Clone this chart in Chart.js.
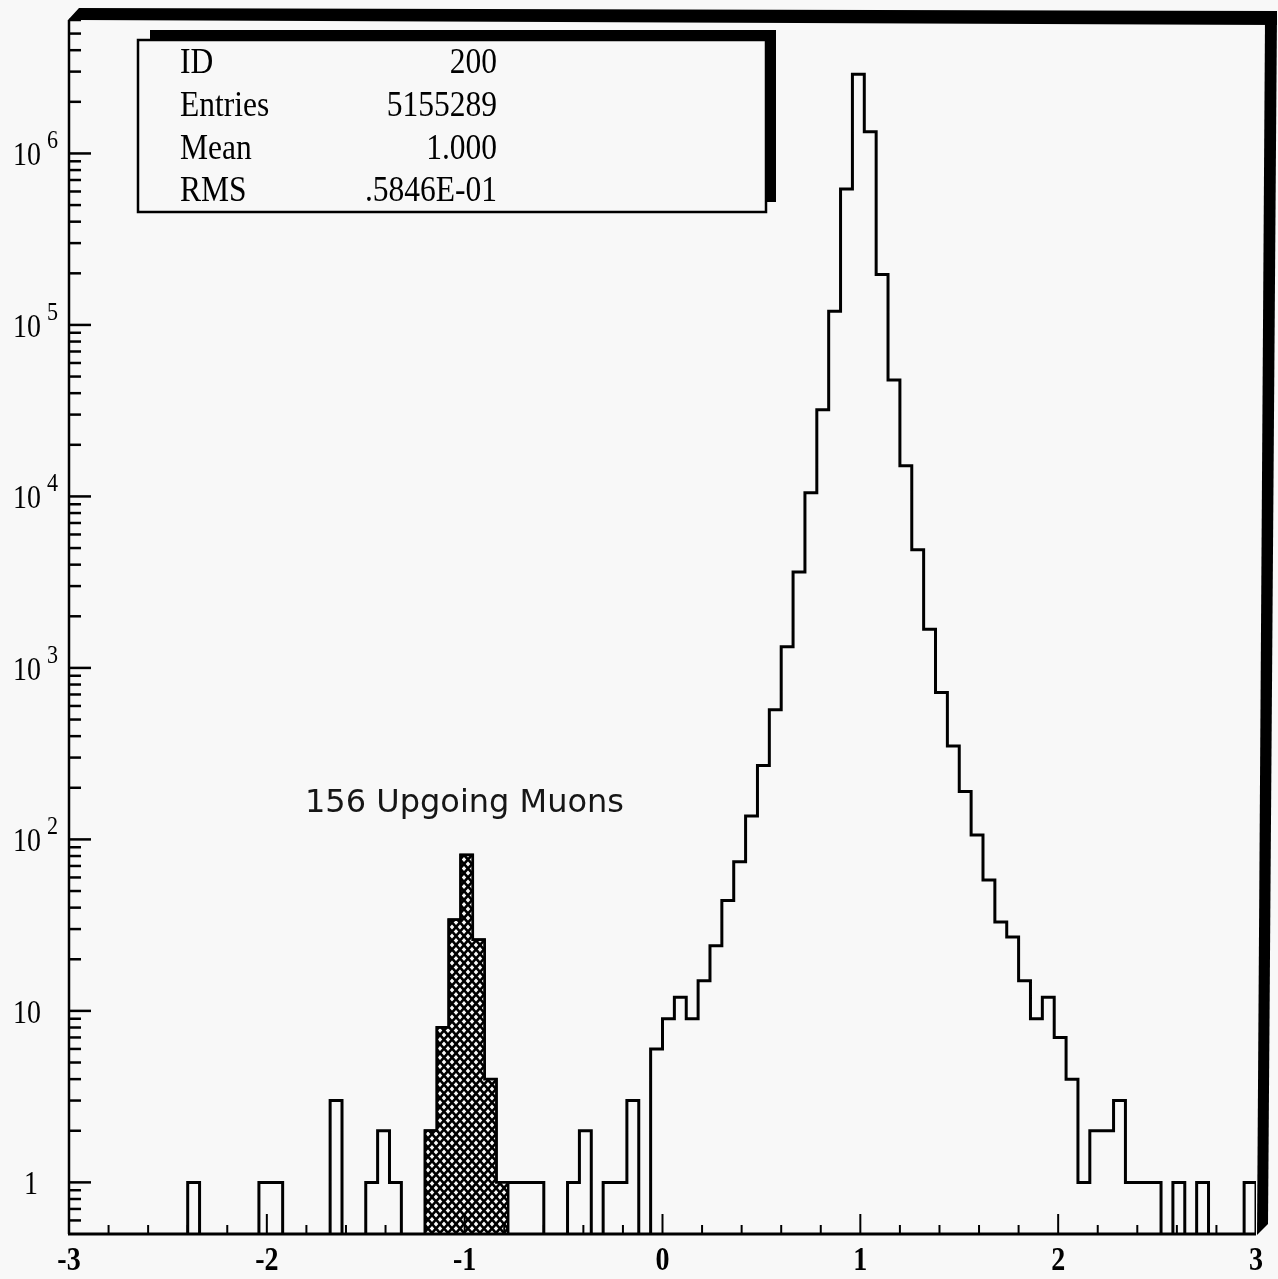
<!DOCTYPE html>
<html>
<head>
<meta charset="utf-8">
<script src="https://cdn.jsdelivr.net/npm/chart.js@4.4.1/dist/chart.umd.min.js"></script>
<style>
  html, body { margin: 0; padding: 0; background: #f8f8f8; }
  canvas { display: block; }
</style>
</head>
<body>
<canvas id="histo" width="1278" height="1279"></canvas>
<script>
// histogram ID 200: 100 bins of 0.06 from -3 to 3
const xMin = -3;
const xMax = 3;
const binWidth = 0.06;

// all events, bin by bin (left to right)
const allEvents = [
    0, 0, 0, 0, 0, 0, 0, 0, 0, 0,
    1, 0, 0, 0, 0, 0, 1, 1, 0, 0,
    0, 0, 3, 0, 0, 1, 2, 1, 0, 0,
    2, 8, 34, 81, 26, 4, 1, 1, 1, 1,
    0, 0, 1, 2, 0, 1, 1, 3, 0, 6,
    9, 12, 9, 15, 24, 44, 74, 137, 270, 570,
    1330, 3620, 10500, 32000, 120000, 620000, 2900000, 1340000, 197000, 47700,
    15100, 4890, 1680, 720, 350, 190, 106, 58, 33, 27,
    15, 9, 12, 7, 4, 1, 2, 2, 3, 1,
    1, 1, 0, 1, 0, 1, 0, 0, 0, 1
];

// the 156 upgoing muons (hatched), same binning
const upgoingMuons = [
    0, 0, 0, 0, 0, 0, 0, 0, 0, 0,
    0, 0, 0, 0, 0, 0, 0, 0, 0, 0,
    0, 0, 0, 0, 0, 0, 0, 0, 0, 0,
    2, 8, 34, 81, 26, 4, 1, 0, 0, 0,
    0, 0, 0, 0, 0, 0, 0, 0, 0, 0,
    0, 0, 0, 0, 0, 0, 0, 0, 0, 0,
    0, 0, 0, 0, 0, 0, 0, 0, 0, 0,
    0, 0, 0, 0, 0, 0, 0, 0, 0, 0,
    0, 0, 0, 0, 0, 0, 0, 0, 0, 0,
    0, 0, 0, 0, 0, 0, 0, 0, 0, 0
];

const xTickValues = [-3, -2, -1, 0, 1, 2, 3];
const xTickLabels = ["-3", "-2", "-1", "0", "1", "2", "3"];
const yTickValues = [1, 10, 100, 1000, 10000, 100000, 1000000];
const yTickBase = ["1", "10", "10", "10", "10", "10", "10"];
const yTickExp = ["", "", "2", "3", "4", "5", "6"];

const statLabels = ["ID", "Entries", "Mean", "RMS"];
const statValues = ["200", "5155289", "1.000", ".5846E-01"];
const noteText = "156 Upgoing Muons";

const yMin = 0.5;
const yMax = 6e6;
const emptyLevel = 0.01; // empty bins fall below the log axis and get clipped

function stepPoints(values) {
    const pts = values.map((v, i) => ({ x: xMin + i * binWidth, y: v > 0 ? v : emptyLevel }));
    pts.push({ x: xMin + values.length * binWidth, y: emptyLevel });
    return pts;
}

function makeHatch() {
    const c = document.createElement("canvas");
    c.width = 8;
    c.height = 9;
    const g = c.getContext("2d");
    g.fillStyle = "#f8f8f8";
    g.fillRect(0, 0, 8, 9);
    g.strokeStyle = "#000";
    g.lineWidth = 2.6;
    g.beginPath();
    g.moveTo(-1, -1.1); g.lineTo(9, 10.1);
    g.moveTo(9, -1.1); g.lineTo(-1, 10.1);
    g.stroke();
    return g.createPattern(c, "repeat");
}

function drawText(ctx, str, x, y, font, align, sx) {
    ctx.save();
    ctx.translate(x, y);
    ctx.scale(sx, 1);
    ctx.font = font;
    ctx.textAlign = align;
    ctx.textBaseline = "alphabetic";
    ctx.fillText(str, 0, 0);
    ctx.restore();
}

const framePlugin = {
    id: "frame",
    afterDraw(chart) {
        const ctx = chart.ctx;
        const area = chart.chartArea;
        const xs = chart.scales.x;
        const ys = chart.scales.y;
        ctx.save();
        ctx.strokeStyle = "#000";
        ctx.fillStyle = "#000";
        ctx.lineCap = "butt";

        // axes
        ctx.lineWidth = 2.5;
        ctx.beginPath();
        ctx.moveTo(area.left, area.top);
        ctx.lineTo(area.left, area.bottom);
        ctx.stroke();
        ctx.lineWidth = 3;
        ctx.beginPath();
        ctx.moveTo(area.left - 1, area.bottom);
        ctx.lineTo(area.right, area.bottom);
        ctx.stroke();

        // thick top and right edges
        ctx.beginPath();
        ctx.moveTo(area.left - 1, area.top);
        ctx.lineTo(area.left + 10, area.top - 12);
        ctx.lineTo(1277, area.top - 9);
        ctx.lineTo(1277, area.top + 5);
        ctx.lineTo(area.left + 8, area.top);
        ctx.closePath();
        ctx.fill();
        ctx.beginPath();
        ctx.moveTo(1265, area.top);
        ctx.lineTo(1277, area.top - 9);
        ctx.lineTo(1268, area.bottom - 10);
        ctx.lineTo(area.right + 1, area.bottom + 1);
        ctx.closePath();
        ctx.fill();

        // y ticks, inside
        ctx.lineWidth = 2.5;
        for (let d = 0.1; d < yMax; d *= 10) {
            for (let m = 1; m <= 9; m++) {
                const v = m * d;
                if (v <= yMin || v > yMax) continue;
                const py = ys.getPixelForValue(v);
                const len = m === 1 ? 22 : 12;
                ctx.beginPath();
                ctx.moveTo(area.left, py);
                ctx.lineTo(area.left + len, py);
                ctx.stroke();
            }
        }
        // x ticks, inside
        ctx.lineWidth = 2;
        for (let i = 1; i < 30; i++) {
            const v = xMin + i * 0.2;
            const px = xs.getPixelForValue(v);
            const len = i % 5 === 0 ? 20 : 9;
            ctx.beginPath();
            ctx.moveTo(px, area.bottom);
            ctx.lineTo(px, area.bottom - len);
            ctx.stroke();
        }

        // x labels
        xTickValues.forEach((v, i) => {
            drawText(ctx, xTickLabels[i], xs.getPixelForValue(v), area.bottom + 36,
                "bold 33px 'Liberation Serif'", "center", 0.85);
        });
        // y labels
        yTickValues.forEach((v, i) => {
            const py = ys.getPixelForValue(v);
            const right = yTickBase[i] === "1" ? 38 : 41;
            drawText(ctx, yTickBase[i], right, py + 12, "34px 'Liberation Serif'", "right", 0.82);
            if (yTickExp[i]) {
                drawText(ctx, yTickExp[i], 47, py - 5, "26px 'Liberation Serif'", "left", 0.85);
            }
        });

        // statistics box
        ctx.lineWidth = 2.5;
        ctx.strokeRect(138, 40, 628, 172);
        ctx.fillRect(150, 30, 626, 9);
        ctx.fillRect(766, 30, 10, 172);
        const rowBase = [73, 116, 159, 201];
        statLabels.forEach((s, i) => {
            drawText(ctx, s, 180, rowBase[i], "35px 'Liberation Serif'", "left", 0.9);
            drawText(ctx, statValues[i], 497, rowBase[i], "35px 'Liberation Serif'", "right", 0.9);
        });

        // annotation
        ctx.fillStyle = "#161616";
        drawText(ctx, noteText, 305, 812, "32px 'DejaVu Sans'", "left", 1.0);
        ctx.restore();
    }
};

const chart = new Chart(document.getElementById("histo"), {
    type: "line",
    plugins: [framePlugin],
    data: {
        datasets: [
            {
                data: stepPoints(upgoingMuons),
                stepped: true,
                borderColor: "#000",
                borderWidth: 2.5,
                backgroundColor: makeHatch(),
                fill: "start",
                pointRadius: 0,
            },
            {
                data: stepPoints(allEvents),
                stepped: true,
                borderColor: "#000",
                borderWidth: 3,
                fill: false,
                pointRadius: 0,
            },
        ],
    },
    options: {
        responsive: false,
        animation: false,
        devicePixelRatio: 1,
        layout: { padding: { left: 69, right: 22, top: 20, bottom: 45 } },
        plugins: {
            legend: { display: false },
            tooltip: { enabled: false },
        },
        scales: {
            x: { type: "linear", min: xMin, max: xMax, display: false },
            y: { type: "logarithmic", min: yMin, max: yMax, display: false },
        },
    },
});
</script>
</body>
</html>
